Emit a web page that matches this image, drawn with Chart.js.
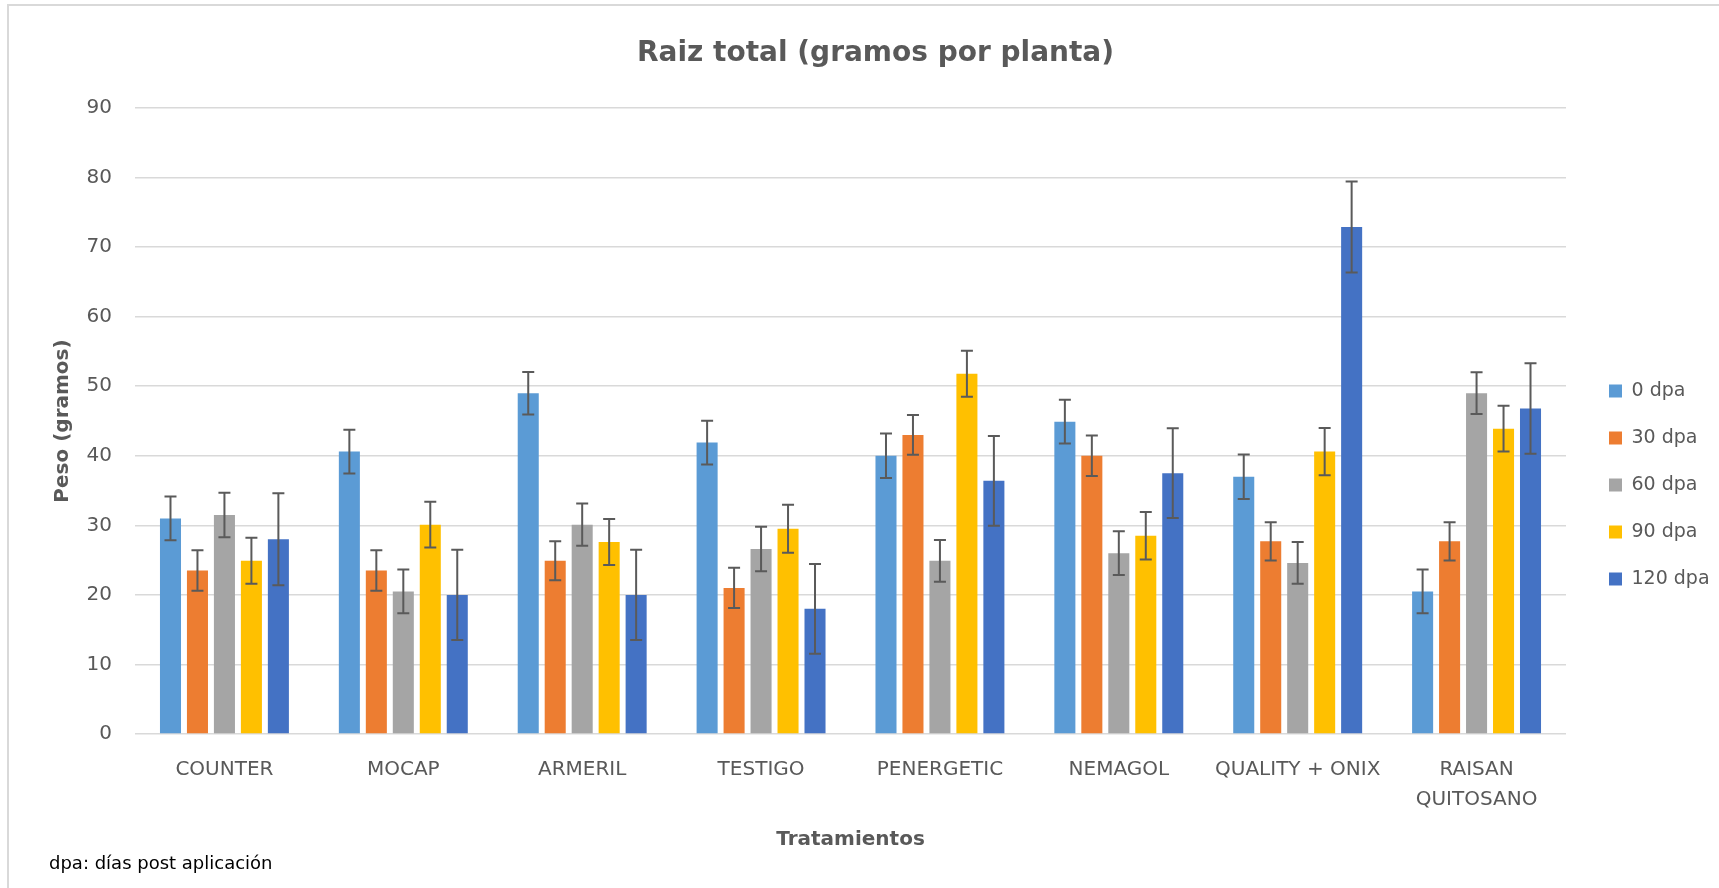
<!DOCTYPE html>
<html>
<head>
<meta charset="utf-8">
<script src="https://cdn.jsdelivr.net/npm/chart.js@4.4.1/dist/chart.umd.min.js"></script>
<style>
  html, body { margin: 0; padding: 0; background: #ffffff; }
  #wrap { position: relative; width: 1719px; height: 888px; overflow: hidden; background: #ffffff; }
  #frame { position: absolute; left: 7px; top: 4px; width: 1800px; height: 1000px;
           border-left: 2px solid #d9d9d9; border-top: 2px solid #d9d9d9; pointer-events: none; }
  #c { position: absolute; left: 0; top: 0; }
  #note { position: absolute; left: 49px; top: 852px; font-family: "DejaVu Sans"; font-size: 18px;
          line-height: 22px; color: #000000; white-space: nowrap; }
</style>
</head>
<body>
<div id="wrap">
  <canvas id="c" width="1719" height="888"></canvas>
  <div id="frame"></div>
  <div id="note">dpa: días post aplicación</div>
</div>
<script>
// ---- Data ----
const categories = ['COUNTER', 'MOCAP', 'ARMERIL', 'TESTIGO', 'PENERGETIC', 'NEMAGOL', 'QUALITY + ONIX', ['RAISAN', 'QUITOSANO']];
const seriesNames = ['0 dpa', '30 dpa', '60 dpa', '90 dpa', '120 dpa'];

const dpa0   = [31.0, 40.6, 49.0, 41.9, 40.0, 44.9, 37.0, 20.5];
const dpa30  = [23.5, 23.5, 24.9, 21.0, 43.0, 40.0, 27.7, 27.7];
const dpa60  = [31.5, 20.5, 30.1, 26.6, 24.9, 26.0, 24.6, 49.0];
const dpa90  = [24.9, 30.1, 27.6, 29.5, 51.8, 28.5, 40.6, 43.9];
const dpa120 = [28.0, 20.0, 20.0, 18.0, 36.4, 37.5, 72.9, 46.8];

const err0   = [3.15, 3.15, 3.05, 3.15, 3.2, 3.15, 3.2, 3.15];
const err30  = [2.9, 2.9, 2.8, 2.9, 2.85, 2.9, 2.75, 2.75];
const err60  = [3.2, 3.15, 3.05, 3.2, 3.0, 3.15, 3.0, 3.0];
const err90  = [3.3, 3.3, 3.3, 3.45, 3.3, 3.4, 3.4, 3.3];
const err120 = [6.6, 6.5, 6.5, 6.45, 6.45, 6.45, 6.55, 6.5];

const yTicks = { min: 0, max: 90, step: 10 };

// ---- Styles ----
const values = [dpa0, dpa30, dpa60, dpa90, dpa120];
const errors = [err0, err30, err60, err90, err120];
const colors = ['#5B9BD5', '#ED7D31', '#A5A5A5', '#FFC000', '#4472C4'];
const FONT = 'DejaVu Sans';
const GREY = '#595959';

Chart.defaults.font.family = FONT;
Chart.defaults.color = GREY;

const errorBars = {
  id: 'errorBars',
  afterDatasetsDraw(chart) {
    const ctx = chart.ctx;
    const ys = chart.scales.y;
    ctx.save();
    ctx.strokeStyle = '#5a5a5a';
    ctx.lineWidth = 2;
    chart.data.datasets.forEach((ds, i) => {
      const meta = chart.getDatasetMeta(i);
      meta.data.forEach((bar, j) => {
        const v = ds.data[j], e = ds.errors[j];
        const yt = ys.getPixelForValue(v + e);
        const yb = ys.getPixelForValue(v - e);
        const x = bar.x, hw = 6;
        ctx.beginPath();
        ctx.moveTo(x, yt); ctx.lineTo(x, yb);
        ctx.moveTo(x - hw, yt); ctx.lineTo(x + hw, yt);
        ctx.moveTo(x - hw, yb); ctx.lineTo(x + hw, yb);
        ctx.stroke();
      });
    });
    ctx.restore();
  }
};

const boxPlace = {
  id: 'boxPlace',
  beforeLayout(chart) {
    const lg = chart.legend;
    if (lg && !lg._fixedFit) {
      const orig = lg.fit.bind(lg);
      lg.fit = function () { orig(); this.width = 153; };
      lg._fixedFit = true;
    }
  },
  afterLayout(chart) {
    const lg = chart.legend;
    if (lg) {
      lg.left += 15; lg.right += 15;
      lg.top = 108; lg.bottom = 862;
    }
    const tb = chart.titleBlock;
    if (tb) { tb.left += 16; tb.right += 16; }
  }
};

new Chart(document.getElementById('c'), {
  type: 'bar',
  data: {
    labels: categories,
    datasets: seriesNames.map((name, i) => ({
      label: name,
      data: values[i],
      errors: errors[i],
      backgroundColor: colors[i],
      borderWidth: 0,
      categoryPercentage: 0.754,
      barPercentage: 0.78
    }))
  },
  options: {
    responsive: false,
    animation: false,
    layout: { padding: 0 },
    plugins: {
      title: {
        display: true,
        text: 'Raiz total (gramos por planta)',
        color: GREY,
        font: { family: FONT, size: 28, weight: 'bold', lineHeight: 1.2 },
        padding: { top: 37, bottom: 37.4 }
      },
      legend: {
        position: 'right',
        labels: {
          boxWidth: 13, boxHeight: 13, padding: 28, color: GREY,
          font: { family: FONT, size: 19 }
        }
      },
      tooltip: { enabled: false }
    },
    scales: {
      x: {
        grid: { display: false, drawTicks: false },
        border: { display: false },
        ticks: {
          color: GREY, autoSkip: false, maxRotation: 0, padding: 21,
          font: { family: FONT, size: 20, lineHeight: 1.5 }
        },
        title: {
          display: true, text: 'Tratamientos', color: GREY,
          font: { family: FONT, size: 20, weight: 'bold', lineHeight: 1.2 },
          padding: { top: 0, bottom: 36 }
        },
        afterFit(scale) { scale.height = 154; }
      },
      y: {
        min: yTicks.min, max: yTicks.max,
        grid: { color: '#D9D9D9', lineWidth: 1.5, drawTicks: false },
        border: { display: false },
        ticks: {
          stepSize: yTicks.step, color: GREY, padding: 23,
          font: { family: FONT, size: 20 }
        },
        title: {
          display: true, text: 'Peso (gramos)', color: GREY,
          font: { family: FONT, size: 20, weight: 'bold', lineHeight: 1.2 },
          padding: { top: 51, bottom: 0 }
        },
        afterFit(scale) { scale.width = 135; }
      }
    }
  },
  plugins: [errorBars, boxPlace]
});
</script>
</body>
</html>
